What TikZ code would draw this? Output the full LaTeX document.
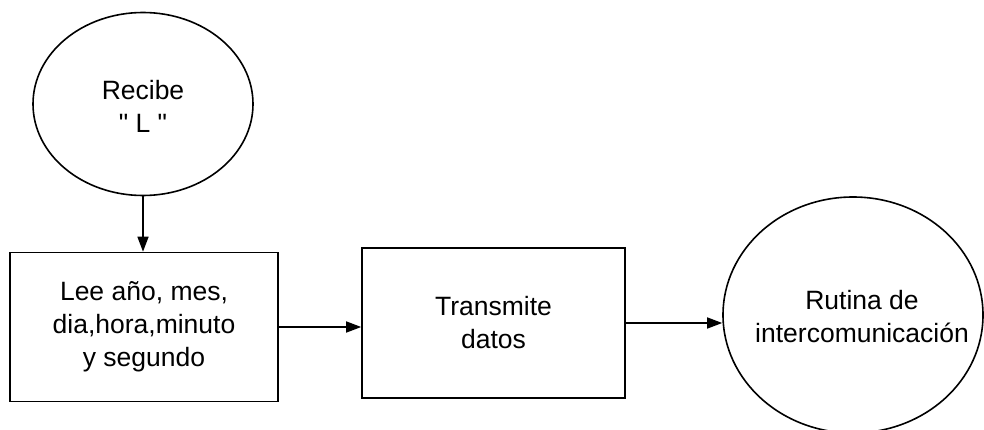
\documentclass[tikz,border=0pt]{standalone}
\usepackage{fontspec}
\setmainfont{Liberation Sans}
\usetikzlibrary{shapes.geometric,arrows.meta}
\tikzset{
  x=1pt, y=-1pt,
  txt/.style={font=\fontsize{26.5}{33}\selectfont, align=center, inner sep=0pt},
  oval/.style={ellipse, draw, line width=1.6pt, inner sep=0pt},
  proc/.style={rectangle, draw, line width=1.6pt, inner sep=0pt, txt},
  arr/.style={line width=1.5pt, -{Triangle[length=15pt,width=11pt]}},
}
\begin{document}
\begin{tikzpicture}
  \useasboundingbox (0,0) rectangle (984,430);
  % start event
  \node[oval, minimum width=220pt, minimum height=183pt] (rec) at (143,104) {};
  \node[txt] (rectxt) at (143,106) {Recibe\\\textquotedbl\ L \textquotedbl};
  % processing steps
  \node[proc, minimum width=268pt, minimum height=149pt] (lee) at (144,327) {Lee año, mes,\\dia,hora,minuto\\y segundo};
  \node[proc, minimum width=263pt, minimum height=150pt] (tx) at (493.5,323) {Transmite\\datos};
  % destination routine
  \node[oval, minimum width=260pt, minimum height=236pt] (rut) at (853,315) {};
  \node[txt] (ruttxt) at (862,317) {Rutina de\\intercomunicación};
  % flow
  \draw[arr] (rec.south) -- (rec.south |- lee.north);
  \draw[arr] (lee.east) -- (lee.east -| tx.west);
  \draw[arr] (tx.east) -- (tx.east -| rut.west);
\end{tikzpicture}
\end{document}
